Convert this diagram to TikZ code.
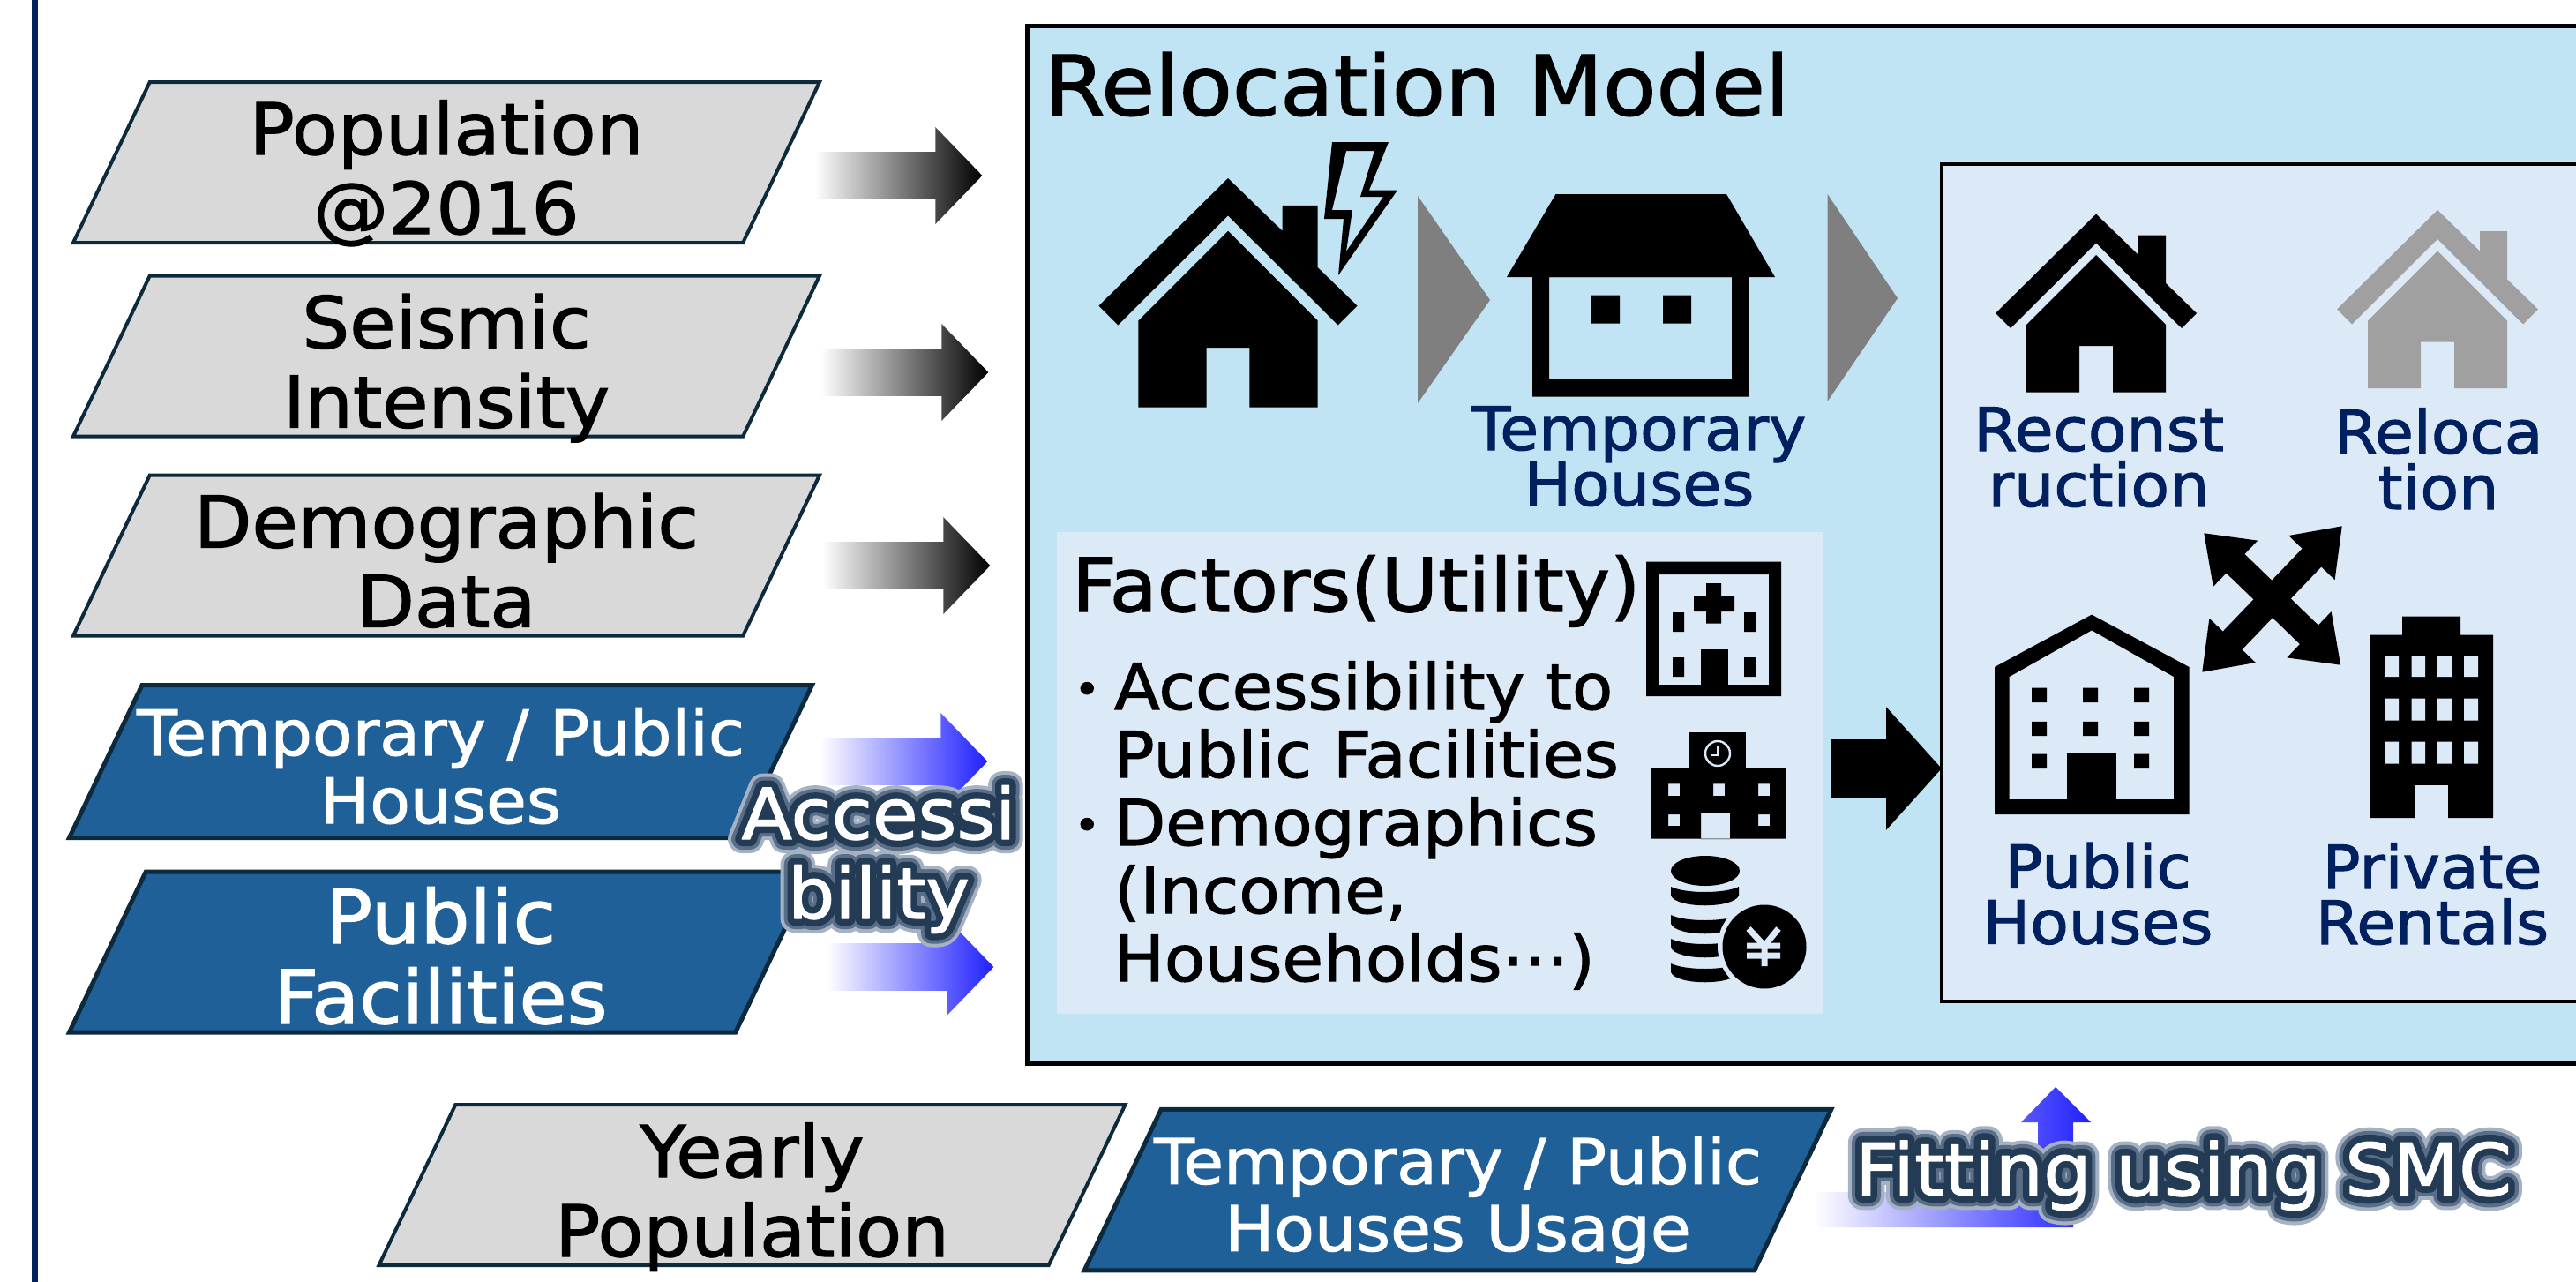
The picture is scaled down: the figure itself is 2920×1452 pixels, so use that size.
\documentclass[tikz,border=0pt]{standalone}
\usepackage{tikz}
\usepackage{xcolor}
\usepackage{fontspec}
\usetikzlibrary{shapes,arrows,arrows.meta,positioning,calc}
\setmainfont[FakeStretch=1.05,FakeBold=1.5]{DejaVu Sans}
\newfontfamily\glowwide[FakeStretch=1.05,FakeBold=40]{DejaVu Sans}
\newfontfamily\glowmid[FakeStretch=1.05,FakeBold=30]{DejaVu Sans}
\newfontfamily\glowcore[FakeStretch=1.05,FakeBold=20]{DejaVu Sans}
\definecolor{navyline}{RGB}{0,32,96}
\definecolor{boxline}{RGB}{12,42,60}
\definecolor{inputgray}{RGB}{217,217,217}
\definecolor{inputblue}{RGB}{32,96,153}
\definecolor{modelblue}{RGB}{193,228,245}
\definecolor{optblue}{RGB}{220,233,247}
\definecolor{triangray}{RGB}{127,127,127}
\definecolor{relocgray}{RGB}{160,160,160}
\definecolor{fitblue}{RGB}{32,32,255}
\definecolor{glowdark}{RGB}{36,59,85}
\definecolor{glowmiddle}{RGB}{90,110,135}
\definecolor{glowsoft}{RGB}{165,178,195}
\newcommand{\glowtext}[1]{\leavevmode\rlap{\glowwide\color{glowsoft}#1}\rlap{\glowmid\color{glowmiddle}#1}\rlap{\glowcore\color{glowdark}#1}#1}
\newcommand{\factbullet}{\llap{\raisebox{3pt}{\fontsize{24}{24}\selectfont•}\hspace{8pt}}}
\normallineskiplimit=-100pt
\lineskiplimit=-100pt
\tikzset{
  datagray/.style={trapezium, trapezium left angle=64.5, trapezium right angle=115.5, trapezium stretches body=true, draw=boxline, line width=2pt, fill=inputgray, minimum width=423pt, minimum height=91pt, inner sep=0pt, outer sep=0pt, align=center, text height=86pt, text depth=5pt, font=\fontsize{40.5}{45}\selectfont},
  datablue/.style={datagray, line width=2.5pt, fill=inputblue, text=white, minimum width=421pt},
  grayflow/.style={single arrow, single arrow head extend=14pt, single arrow tip angle=92, single arrow head indent=0pt, minimum height=95pt, minimum width=54.5pt, inner xsep=0pt, inner ysep=13.25pt, anchor=tail, left color=white, middle color=black!62, right color=black},
  blueflow/.style={grayflow, left color=white, middle color=fitblue!35, right color=fitblue},
  optlabel/.style={text=navyline, align=center, anchor=base, font=\fontsize{34}{31.5}\selectfont},
  glowlabel/.style={text=white, align=center, anchor=base},
  houseicon/.pic={
    \fill (0,0) -- (48,46.5) -- (48,24) -- (79,24) -- (79,78.5) -- (114,112.5) -- (97,129.5) -- (0,33) -- (-97,129.5) -- (-114,112.5) -- cycle;
    \fill (0,46.5) -- (79,125.5) -- (79,202) -- (19,202) -- (19,149.5) -- (-19,149.5) -- (-19,202) -- (-79,202) -- (-79,125.5) -- cycle;
  }
}
\begin{document}
\begin{tikzpicture}[x=0.5pt,y=-0.5pt]
\path[use as bounding box,clip] (0,0) rectangle (2920,1452);
\fill[navyline] (36,-5) rectangle (43,1460);

\node[draw=black, line width=2.5pt, fill=modelblue, anchor=north west, outer sep=0pt, minimum width=950pt, minimum height=588pt] (model) at (1164,29.5) {};
\node[fill=optblue, anchor=north west, outer sep=0pt, minimum width=434.5pt, minimum height=273pt] (fact) at (1198,602.5) {};
\node[draw=black, line width=2pt, fill=optblue, anchor=north west, outer sep=0pt, minimum width=500pt, minimum height=474.5pt] (opt) at (2201,186) {};
\coordinate (bigmid) at (2100,871);
\draw[line width=33.5pt, -{Triangle[length=31.5pt,width=68pt]}, shorten <=4.5pt] (fact.east |- bigmid) -- (opt.west |- bigmid);

\node[datagray] (pop) at (506,184) {Population\\@2016};
\node[datagray] (seis) at (506,403.5) {Seismic\\Intensity};
\node[datagray] (demo) at (506,629.5) {Demographic\\Data};
\node[datablue, inner xsep=-3pt, minimum height=86.5pt, text height=78.25pt, text depth=8.25pt, font=\fontsize{35.5}{38.5}\selectfont] (temp) at (499.5,863) {Temporary / Public\\Houses};
\node[datablue, font=\fontsize{42}{45.5}\selectfont] (facil) at (499.5,1079) {Public\\Facilities};
\node[datagray] (year) at (852.5,1343) {Yearly\\Population};
\node[datablue, inner xsep=-4pt, text height=80.25pt, text depth=11pt, font=\fontsize{35.5}{38}\selectfont] (usage) at (1652.5,1348.5) {Temporary / Public\\Houses Usage};

\node[grayflow] (popin) at (923,199) {};
\node[grayflow] (seisin) at (930,422) {};
\node[grayflow] (demoin) at (932,641) {};
\node[blueflow] (tempin) at (929,863) {};
\node[blueflow] (facilin) at (936,1096) {};

\node[anchor=base west, font=\fontsize{47}{50}\selectfont] (title) at (1177,130.5) {Relocation Model};

\pic[scale=1.285, fill=black] (oldhouse) at (1392,202) {houseicon};
\fill[even odd rule] (1510,161) -- (1574,161) -- (1552,215.5) -- (1584,215.5) -- (1517,312) -- (1523,248) -- (1501,248) -- cycle (1526,171) -- (1558,171) -- (1542,223) -- (1568,223) -- (1526,285) -- (1533,238) -- (1510,238) -- cycle;
\fill[triangray] (1607,222) -- (1689,340) -- (1607,457) -- cycle;
\fill[triangray] (2071.5,220) -- (2151,338) -- (2071.5,455) -- cycle;

\fill (1763.5,220) -- (1957,220) -- (2012,314) -- (1708,314) -- cycle;
\fill[even odd rule] (1737,314) rectangle (1982,449.6) (1756,314) rectangle (1963,430);
\fill (1804,334.5) rectangle (1836,366.5) (1885,334.5) rectangle (1917,366.5);
\node[optlabel] (temphouse) at (1858,573) {Temporary\\Houses};

\node[anchor=base west, font=\fontsize{42}{45}\selectfont] (facttitle) at (1208,693) {Factors(Utility)};
\node[anchor=base west, align=left, font=\fontsize{36}{38.5}\selectfont] (factlist) at (1256,1112) {\factbullet Accessibility to\\Public Facilities\\\factbullet Demographics\\(Income,\\Households⋯)};

\fill[even odd rule] (1866,636.5) rectangle (2019,789) (1880,651) rectangle (2005,776);
\fill (1928,736) rectangle (1959,776);
\fill (1934,661) rectangle (1951,706.5) (1920,675) rectangle (1966,693);
\fill (1896,694) rectangle (1909,716) (1977,694) rectangle (1990,716) (1896,745) rectangle (1909,767) (1977,745) rectangle (1990,767);

\fill (1915,830) rectangle (1979,871);
\fill[even odd rule] (1871,871) rectangle (2024,950.5) (1928,921) rectangle (1961,951) (1891,888.4) rectangle (1904,902) (1942,888.4) rectangle (1955,902) (1993,888.4) rectangle (2006,902) (1891,923) rectangle (1904,936) (1993,923) rectangle (2006,936);
\fill (1915,830) rectangle (1979,875);
\draw[optblue, line width=1.2pt] (1947,854) circle [radius=14];
\draw[optblue, line width=1pt] (1947,845) -- (1947,856) -- (1939,856);

\fill (1933,987) ellipse [x radius=39, y radius=17];
\fill (1894,1005) .. controls (1910,1013) and (1955,1013) .. (1971,1005) -- (1971,1015) .. controls (1965,1030) and (1900,1030) .. (1894,1015) -- cycle;
\fill (1894,1037) .. controls (1910,1045) and (1955,1045) .. (1971,1037) -- (1971,1047) .. controls (1965,1062) and (1900,1062) .. (1894,1047) -- cycle;
\fill (1894,1064) .. controls (1910,1072) and (1955,1072) .. (1971,1064) -- (1971,1074) .. controls (1965,1089) and (1900,1089) .. (1894,1074) -- cycle;
\fill (1894,1092) .. controls (1910,1100) and (1955,1100) .. (1971,1092) -- (1971,1102) .. controls (1965,1117) and (1900,1117) .. (1894,1102) -- cycle;
\fill[optblue] (2000,1073) circle [radius=53];
\fill (2000,1073) circle [radius=47.5];
\draw[optblue, line width=3.5pt] (1982,1052.5) -- (2000,1072) -- (2016,1052.5) (2000,1072) -- (2000,1095) (1980,1072) -- (2018,1072) (1980,1083) -- (2018,1083);

\pic[fill=black] (reconhouse) at (2376,242.5) {houseicon};
\pic[fill=relocgray] (relochouse) at (2763,238) {houseicon};
\node[optlabel] (recon) at (2379,574) {Reconst\\ruction};
\node[optlabel] (reloc) at (2764,577) {Reloca\\tion};

\coordinate (swapnw) at (2498,604);
\coordinate (swapse) at (2653.4,754);
\coordinate (swapsw) at (2496,762);
\coordinate (swapne) at (2655,596);
\draw[line width=15pt, {Triangle[length=25pt,width=34.5pt]}-{Triangle[length=25pt,width=34.5pt]}] (swapnw) -- (swapse);
\draw[line width=15pt, {Triangle[length=25pt,width=34.5pt]}-{Triangle[length=25pt,width=34.5pt]}] (swapsw) -- (swapne);

\fill[even odd rule] (2371,696.6) -- (2481.5,756) -- (2481.5,923) -- (2261,923) -- (2261,756) -- cycle (2371,714.4) -- (2464,767) -- (2464,906) -- (2277.7,906) -- (2277.7,767) -- cycle;
\fill (2343,853.4) rectangle (2399,906);
\fill (2303,779.5) rectangle (2320,796) (2361,779.5) rectangle (2378,796) (2419,779.5) rectangle (2436,796);
\fill (2303,817.8) rectangle (2320,834) (2361,817.8) rectangle (2378,834) (2419,817.8) rectangle (2436,834);
\fill (2303,854.7) rectangle (2320,871) (2419,854.7) rectangle (2436,871);
\node[optlabel] (publichouse) at (2378,1069.6) {Public\\Houses};

\fill (2723,698.5) rectangle (2789,720) (2687,719.5) rectangle (2826,927);
\fill[optblue] (2703.5,743) rectangle (2719,767) (2733.5,743) rectangle (2749,767) (2763,743) rectangle (2779,767) (2793,743) rectangle (2809,767);
\fill[optblue] (2703.5,791.6) rectangle (2719,816.5) (2733.5,791.6) rectangle (2749,816.5) (2763,791.6) rectangle (2779,816.5) (2793,791.6) rectangle (2809,816.5);
\fill[optblue] (2703.5,840.7) rectangle (2719,865.6) (2733.5,840.7) rectangle (2749,865.6) (2763,840.7) rectangle (2779,865.6) (2793,840.7) rectangle (2809,865.6);
\fill[optblue] (2737.4,890) rectangle (2775,927.5);
\node[optlabel] (rental) at (2757,1070) {Private\\Rentals};

\shade[left color=white, middle color=fitblue!35, right color=fitblue] (2056,1351) -- (2310,1351) -- (2310,1272) -- (2291,1272) -- (2330,1232) -- (2370,1272) -- (2350,1272) -- (2350,1391) -- (2056,1391) -- cycle;

\begin{scope}[line join=round]
\node[glowlabel, font=\fontsize{40}{45}\selectfont] (access) at (996,1041) {\glowtext{Accessi}\\\glowtext{bility}};
\node[glowlabel, font=\fontsize{41}{45}\selectfont] (fitting) at (2475,1355) {\glowtext{Fitting using SMC}};
\end{scope}
\end{tikzpicture}
\end{document}
